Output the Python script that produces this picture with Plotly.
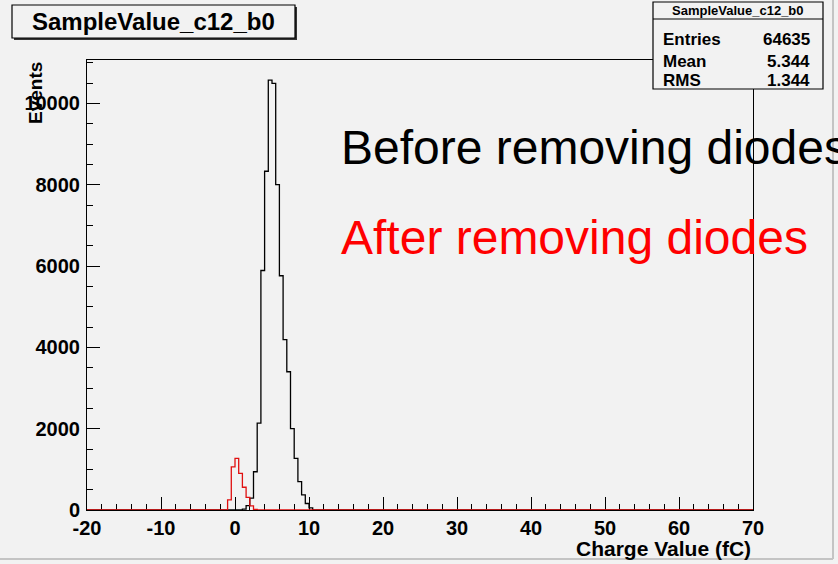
import numpy as np
import plotly.graph_objects as go

# histogram binning (fC)
x_min, x_max, bin_width = -20.0, 70.0, 0.5

# before removing diodes: counts per 0.5 fC bin, starting at black_start
black_start = 1.0
black_counts = [20, 110, 290, 940, 2135, 5890, 8330, 10570, 10490, 8000,
                5760, 4190, 3400, 2000, 1270, 700, 370, 160, 50]

# after removing diodes
red_start = -1.0
red_counts = [250, 1060, 1270, 900, 560, 310, 100, 15]

x_ticks = [-20, -10, 0, 10, 20, 30, 40, 50, 60, 70]
x_ticktext = ["-20", "-10", "0", "10", "20", "30", "40", "50", "60", "70"]
y_ticks = [0, 2000, 4000, 6000, 8000, 10000]
y_ticktext = ["0", "2000", "4000", "6000", "8000", "10000"]

stats_name = "SampleValue_c12_b0"
stats_rows = [("Entries", "64635"), ("Mean", "5.344"), ("RMS", "1.344")]

W, H = 838, 564
L, R, T, B = 87, 85, 60, 54
BG = "#f2f2f2"
FONT = "Liberation Sans"


def px(x):
    return (x - L) / (W - L - R)


def py(y):
    return 1 - (y - T) / (H - T - B)


def hist_line(start, counts):
    edges = np.arange(x_min, x_max + bin_width / 2, bin_width)
    full = np.zeros(len(edges) - 1)
    i0 = int(round((start - x_min) / bin_width))
    full[i0:i0 + len(counts)] = counts
    return edges, np.append(full, full[-1])


fig = go.Figure()
for start, counts, color in [(black_start, black_counts, "black"),
                             (red_start, red_counts, "#e01010")]:
    xs, ys = hist_line(start, counts)
    fig.add_trace(go.Scatter(x=xs, y=ys, mode="lines", line_shape="hv",
                             line=dict(color=color, width=1.3),
                             hoverinfo="skip", showlegend=False))

axis_common = dict(showgrid=False, zeroline=False, showline=True, mirror=True,
                   automargin=False, layer="below traces",
                   linecolor="black", linewidth=1, ticks="inside", ticklen=13,
                   tickcolor="black", tickwidth=1,
                   tickfont=dict(family=FONT, size=20, color="black", weight="bold"))

fig.update_xaxes(range=[x_min, x_max], tickvals=x_ticks, ticktext=x_ticktext,
                 minor=dict(dtick=2, ticks="inside", ticklen=6, tickcolor="black"),
                 **axis_common)
fig.update_yaxes(range=[0, 11066], tickvals=y_ticks, ticktext=y_ticktext,
                 ticklabelstandoff=2,
                 minor=dict(dtick=500, ticks="inside", ticklen=6, tickcolor="black"),
                 **axis_common)

shapes = []
ann = []

# canvas bevel on right / bottom
shapes.append(dict(type="line", xref="paper", yref="paper", x0=px(833), x1=px(833),
                   y0=py(0), y1=py(559), line=dict(color="#c4c4c4", width=2)))
shapes.append(dict(type="line", xref="paper", yref="paper", x0=px(0), x1=px(833),
                   y0=py(559), y1=py(559), line=dict(color="#c4c4c4", width=2)))

# title box with shadow
shapes.append(dict(type="rect", xref="paper", yref="paper", x0=px(14), x1=px(297),
                   y0=py(7), y1=py(40), fillcolor="#333333", line=dict(width=0)))
shapes.append(dict(type="rect", xref="paper", yref="paper", x0=px(12), x1=px(295),
                   y0=py(5), y1=py(38), fillcolor=BG, line=dict(color="black", width=1.2)))
ann.append(dict(text="<b>SampleValue_c12_b0</b>", x=px(153.5), y=py(22),
                xanchor="center", yanchor="middle",
                font=dict(family=FONT, size=24, color="black")))

# stats box
shapes.append(dict(type="rect", xref="paper", yref="paper", x0=px(653), x1=px(823),
                   y0=py(2), y1=py(89), fillcolor=BG, line=dict(color="black", width=1.2)))
shapes.append(dict(type="line", xref="paper", yref="paper", x0=px(653), x1=px(823),
                   y0=py(19), y1=py(19), line=dict(color="black", width=1)))
ann.append(dict(text="<b>" + stats_name + "</b>", x=px(738), y=py(10.5),
                xanchor="center", yanchor="middle",
                font=dict(family=FONT, size=13, color="black")))
for (name, val), yy in zip(stats_rows, [40, 61, 81]):
    ann.append(dict(text="<b>" + name + "</b>", x=px(661), y=py(yy),
                    xanchor="left", yanchor="middle",
                    font=dict(family=FONT, size=17, color="black")))
    ann.append(dict(text="<b>" + val + "</b>", x=px(812), y=py(yy),
                    xanchor="right", yanchor="middle",
                    font=dict(family=FONT, size=17, color="black")))

# axis titles
ann.append(dict(text="<b>Events</b>", x=px(35), y=py(60), textangle=-90,
                xanchor="center", yanchor="top",
                font=dict(family=FONT, size=19, color="black")))
ann.append(dict(text="<b>Charge Value (fC)</b>", x=px(753), y=py(548),
                xanchor="right", yanchor="middle",
                font=dict(family=FONT, size=21, color="black")))

# big labels
ann.append(dict(text="Before removing diodes", x=px(339), y=py(147),
                xanchor="left", yanchor="middle",
                font=dict(family=FONT, size=48, color="black")))
ann.append(dict(text="After removing diodes", x=px(339), y=py(237),
                xanchor="left", yanchor="middle",
                font=dict(family=FONT, size=48, color="#ff0000")))

for a in ann:
    a.update(xref="paper", yref="paper", showarrow=False)

fig.update_layout(
    width=W, height=H,
    margin=dict(l=L, r=R, t=T, b=B),
    paper_bgcolor=BG, plot_bgcolor=BG,
    shapes=shapes, annotations=ann,
    showlegend=False,
)

fig.write_html("out.html", config={"displayModeBar": False},
               post_script="document.body.style.margin='0px';")
